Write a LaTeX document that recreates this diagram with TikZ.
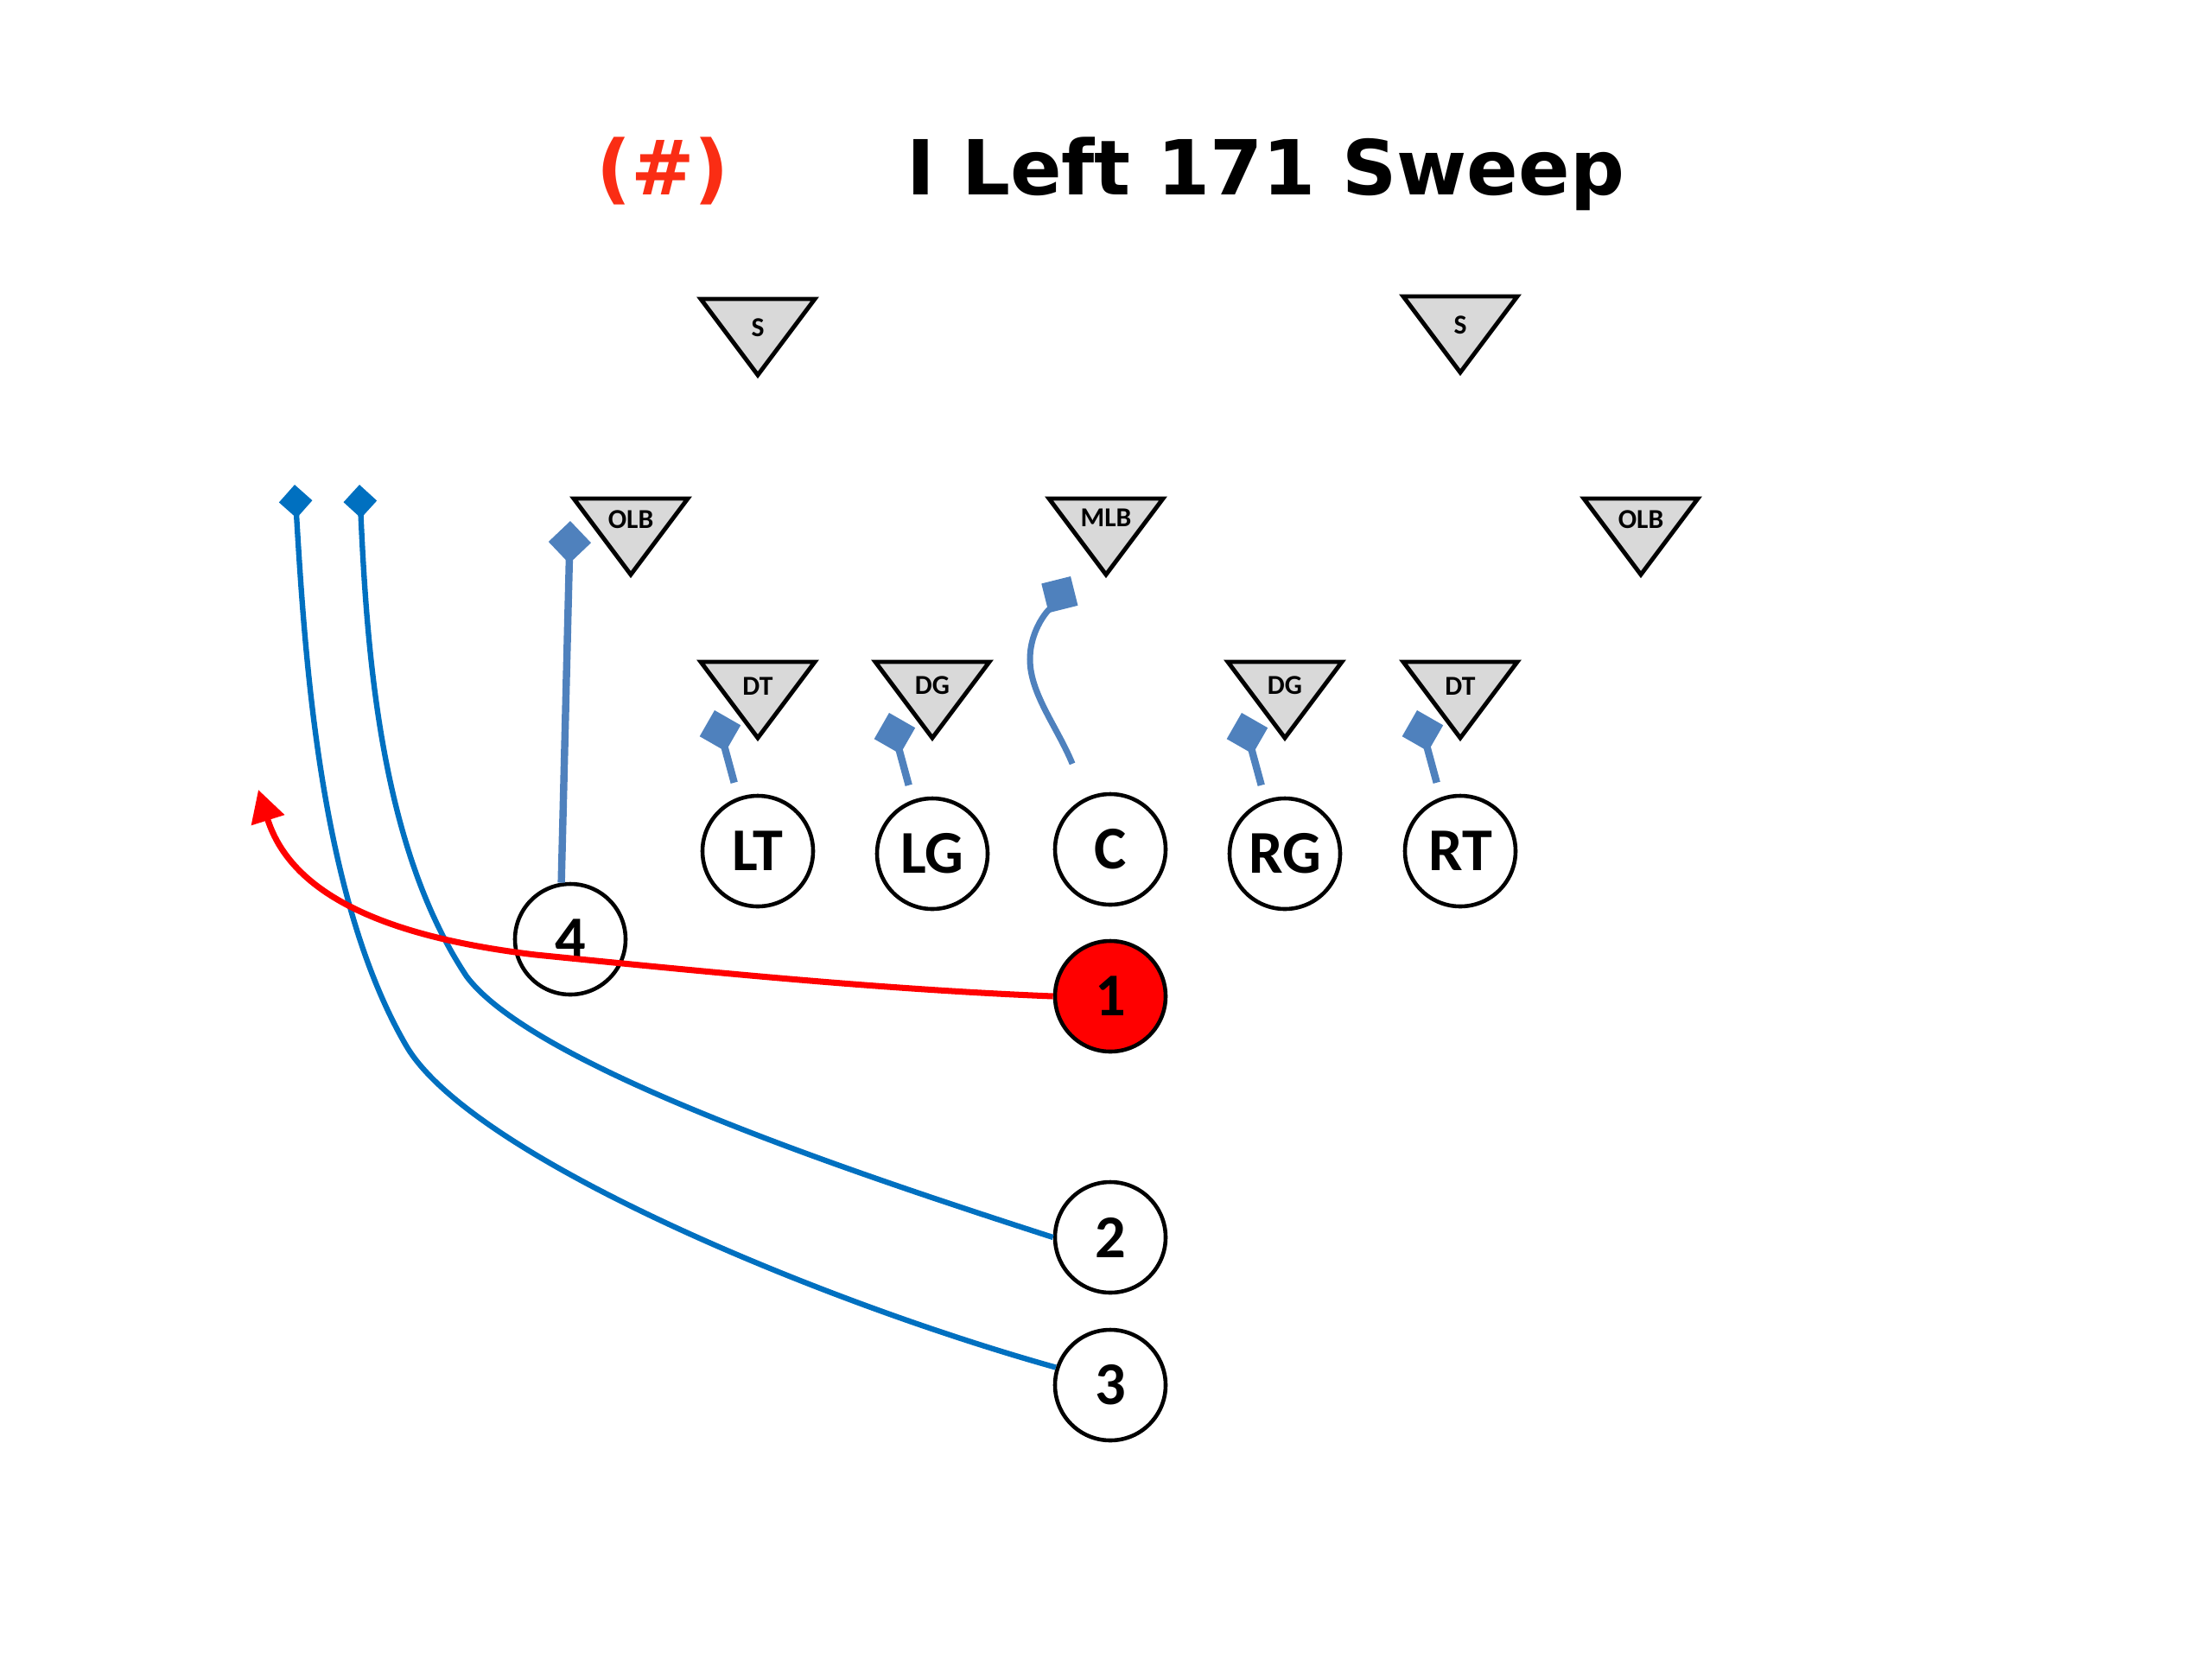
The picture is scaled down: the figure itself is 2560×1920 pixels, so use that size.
\documentclass[tikz,border=0pt]{standalone}
\usepackage{fontspec}
\setmainfont{Carlito}
\newfontfamily\titlefont{DejaVu Sans}
\usetikzlibrary{arrows.meta,shapes.geometric}
\definecolor{routeblue}{HTML}{0070C0}
\definecolor{blockblue}{HTML}{4F81BD}
\definecolor{defgray}{HTML}{D9D9D9}
\definecolor{hashred}{HTML}{FA2D14}

\begin{document}
\begin{tikzpicture}[x=0.1mm,y=-0.1mm,
  player/.style={circle,draw,line width=1.3pt,fill=white,minimum size=12.8mm,inner sep=0pt,font=\bfseries\fontsize{20}{20}\selectfont},
  ball/.style={player,fill=red},
  defender/.style={isosceles triangle,isosceles triangle stretches,shape border rotate=270,draw,line width=1.4pt,fill=defgray,
    minimum width=13.2mm,minimum height=8.8mm,inner sep=-1.5pt,outer sep=0pt,anchor=apex,font=\bfseries\fontsize{9}{9}\selectfont},
  headline/.style={anchor=base,font=\titlefont\bfseries\fontsize{25}{25}\selectfont},
  route/.style={routeblue,line width=1.8pt,-{Turned Square[length=11pt,width=11pt]}},
  block/.style={blockblue,line width=2.4pt,-{Turned Square[length=14pt,width=14pt]}},
  run/.style={red,line width=2pt,-{Triangle[length=10.5pt,width=11pt]}}]
\useasboundingbox (0,0) rectangle (2560,1920);
\node[headline,text=hashred] (num) at (767,225) {(\#)};
\node[headline] (title) at (1465,225) {I Left 171 Sweep};
\node[defender] (s1) at (877,434) {S};
\node[defender] (s2) at (1690,431) {S};
\node[defender] (olb1) at (730,665) {OLB};
\node[defender] (mlb) at (1280,665) {MLB};
\node[defender] (olb2) at (1899,665) {OLB};
\node[defender] (dt1) at (877,854) {DT};
\node[defender] (dg1) at (1079,854) {DG};
\node[defender] (dg2) at (1487,854) {DG};
\node[defender] (dt2) at (1690,854) {DT};
\node[player] (lt) at (877,985) {LT};
\node[player] (lg) at (1079,988) {LG};
\node[player] (c) at (1285,983) {C};
\node[player] (rg) at (1487,988) {RG};
\node[player] (rt) at (1690,985) {RT};
\node[player] (n4) at (660,1087) {4};
\node[ball] (n1) at (1285,1153) {1};
\node[player] (n2) at (1285,1432) {2};
\node[player] (n3) at (1285,1603) {3};
\foreach \p in {lt,lg,rg,rt}{
  \coordinate (\p-hit) at ([shift={(-50,-163)}]\p.center);
  \draw[block,shorten <=5pt] (\p.110) -- (\p-hit);}
\coordinate (c-hit) at (1239,667);
\coordinate (n4-hit) at (660,603);
\coordinate (n3-end) at (341,561);
\coordinate (n2-end) at (416,561);
\coordinate (n1-end) at (299,914);
\draw[block,line width=2pt,shorten <=12pt] (c.115) .. controls (1224,842) and (1192,803) .. (1192,763) .. controls (1192,723) and (1221,697) .. (c-hit);
\draw[block] (n4.99) -- (n4-hit);
\draw[route] (n3.162) .. controls (952,1507) and (545,1339) .. (470,1210) .. controls (370,1038) and (353,761) .. (n3-end);
\draw[route] (n2.west) .. controls (983,1356) and (618,1234) .. (540,1130) .. controls (441,981) and (425,760) .. (n2-end);
\draw[run] (n1.west) .. controls (1020,1145) and (820,1125) .. (620,1105) .. controls (452,1085) and (338,1038) .. (n1-end);
\end{tikzpicture}
\end{document}
